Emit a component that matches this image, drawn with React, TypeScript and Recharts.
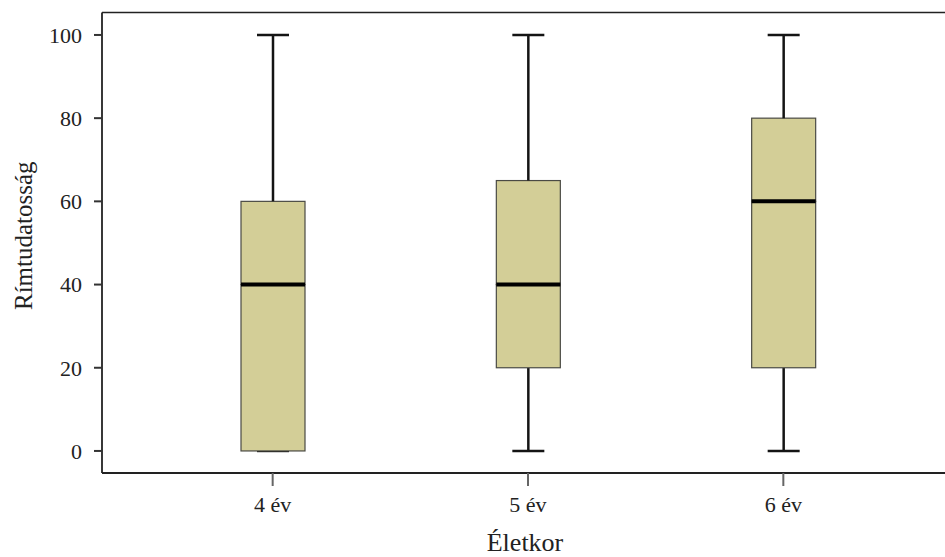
import { ComposedChart, Bar, XAxis, YAxis } from "recharts"

// age groups and the five-number summary of each group
const categories = ["4 év", "5 év", "6 év"]
const minValues = [0, 0, 0]
const q1Values = [0, 20, 20]
const medianValues = [40, 40, 60]
const q3Values = [60, 65, 80]
const maxValues = [100, 100, 100]
const yTicks = [0, 20, 40, 60, 80, 100]

const rows = categories.map((name, i) => ({
    name,
    base: minValues[i],
    lowWhisker: q1Values[i] - minValues[i],
    lowBox: medianValues[i] - q1Values[i],
    highBox: q3Values[i] - medianValues[i],
    highWhisker: maxValues[i] - q3Values[i],
}))

const FONT = '"Liberation Serif", "Times New Roman", serif'
const BOX_FILL = "#D3CE97"
const BOX_STROKE = "#4a4a44"
const LINE = "#141414"

type ShapeProps = { x?: number; y?: number; width?: number; height?: number }

const EmptyShape = () => <g />

const LowWhisker = ({ x = 0, y = 0, width = 0, height = 0 }: ShapeProps) => {
    const cx = x + width / 2
    const bottom = y + height
    return (
        <g>
            <line x1={cx} x2={cx} y1={y} y2={bottom} stroke={LINE} strokeWidth={2.5} />
            <line x1={cx - width / 4} x2={cx + width / 4} y1={bottom} y2={bottom} stroke={LINE} strokeWidth={2.5} />
        </g>
    )
}

const HighWhisker = ({ x = 0, y = 0, width = 0, height = 0 }: ShapeProps) => {
    const cx = x + width / 2
    return (
        <g>
            <line x1={cx} x2={cx} y1={y} y2={y + height} stroke={LINE} strokeWidth={2.5} />
            <line x1={cx - width / 4} x2={cx + width / 4} y1={y} y2={y} stroke={LINE} strokeWidth={2.5} />
        </g>
    )
}

const LowBox = ({ x = 0, y = 0, width = 0, height = 0 }: ShapeProps) => (
    <rect x={x} y={y} width={width} height={height} fill={BOX_FILL} stroke={BOX_STROKE} strokeWidth={1.2} />
)

// upper half of the box, with the median line along its bottom edge
const HighBox = ({ x = 0, y = 0, width = 0, height = 0 }: ShapeProps) => (
    <g>
        <rect x={x} y={y} width={width} height={height} fill={BOX_FILL} stroke={BOX_STROKE} strokeWidth={1.2} />
        <line x1={x} x2={x + width} y1={y + height} y2={y + height} stroke="#000" strokeWidth={4} />
    </g>
)

const YTitle = (props: any) => {
    const { x, y, height } = props.viewBox
    const tx = x + 31.5
    const ty = y + height / 2 - 7
    return (
        <text x={tx} y={ty} transform={`rotate(-90, ${tx}, ${ty})`} textAnchor="middle" fontFamily={FONT} fontSize={25} fill="#222">
            Rímtudatosság
        </text>
    )
}

const XTitle = (props: any) => {
    const { x, width } = props.viewBox
    return (
        <text x={x + width / 2 - 3} y={551} textAnchor="middle" fontFamily={FONT} fontSize={26} fill="#222">
            Életkor
        </text>
    )
}

export default function App() {
    return (
        <div style={{ position: "fixed", left: 0, top: 0, width: 945, height: 557, overflow: "hidden", background: "#fff" }}>
            <ComposedChart width={960} height={557} data={rows} margin={{ top: 11.5, right: 6, bottom: 24, left: 0 }}>
                <XAxis
                    xAxisId="frame"
                    orientation="top"
                    dataKey="name"
                    height={1}
                    tick={false}
                    tickLine={false}
                    axisLine={{ stroke: "#222", strokeWidth: 1.6 }}
                />
                <XAxis
                    dataKey="name"
                    height={60}
                    padding={{ left: 43, right: 43 }}
                    axisLine={{ stroke: "#222", strokeWidth: 1.8 }}
                    tickLine={{ stroke: "#666", strokeWidth: 2 }}
                    tickSize={13}
                    tickMargin={10}
                    tick={{ fontFamily: FONT, fontSize: 22, fill: "#222" }}
                    label={XTitle}
                />
                <YAxis
                    width={102}
                    type="number"
                    domain={[-5.3, 105.4]}
                    allowDataOverflow
                    ticks={yTicks}
                    axisLine={{ stroke: "#222", strokeWidth: 1.8 }}
                    tickLine={{ stroke: "#333", strokeWidth: 2 }}
                    tickSize={8}
                    tickMargin={12}
                    tick={{ fontFamily: FONT, fontSize: 22, fill: "#222" }}
                    label={YTitle}
                />
                <Bar dataKey="base" stackId="box" barSize={64} shape={EmptyShape} isAnimationActive={false} />
                <Bar dataKey="lowWhisker" stackId="box" barSize={64} shape={LowWhisker} isAnimationActive={false} />
                <Bar dataKey="lowBox" stackId="box" barSize={64} shape={LowBox} isAnimationActive={false} />
                <Bar dataKey="highBox" stackId="box" barSize={64} shape={HighBox} isAnimationActive={false} />
                <Bar dataKey="highWhisker" stackId="box" barSize={64} shape={HighWhisker} isAnimationActive={false} />
            </ComposedChart>
        </div>
    )
}
